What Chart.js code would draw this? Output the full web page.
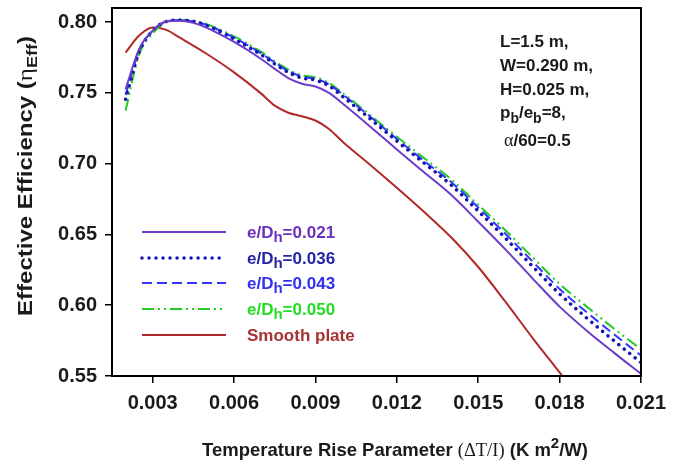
<!DOCTYPE html>
<html>
<head>
<meta charset="utf-8">
<script src="https://cdn.jsdelivr.net/npm/chart.js@4.4.1/dist/chart.umd.min.js"></script>
<style>
  body { margin: 0; background: #fff; }
  #wrap { width: 682px; height: 464px; }
</style>
</head>
<body>
<div id="wrap"><canvas id="myChart" width="682" height="464"></canvas></div>
<script>
// temperature rise parameter, K m2/W
const xRib = [0.002, 0.0025, 0.003, 0.0035, 0.004, 0.0045, 0.005, 0.006, 0.007, 0.0075, 0.008, 0.0085, 0.009,
  0.0095, 0.010, 0.011, 0.012, 0.013, 0.014, 0.015, 0.016, 0.017, 0.018, 0.019, 0.020, 0.021];

// effective efficiency for each relative roughness height
const eff021 = [0.7525, 0.781, 0.794, 0.8005, 0.801, 0.7995, 0.796, 0.786, 0.774, 0.767, 0.7605, 0.7565, 0.7545,
  0.750, 0.7425, 0.7265, 0.710, 0.694, 0.678, 0.659, 0.6395, 0.619, 0.599, 0.582, 0.5665, 0.5515];
const eff036 = [0.7455, 0.779, 0.794, 0.8005, 0.8015, 0.8005, 0.7975, 0.788, 0.777, 0.7705, 0.7645, 0.7605, 0.759,
  0.755, 0.7475, 0.732, 0.716, 0.7005, 0.685, 0.6665, 0.6475, 0.6275, 0.608, 0.591, 0.575, 0.5595];
const eff043 = [0.7485, 0.780, 0.794, 0.8005, 0.8015, 0.8005, 0.798, 0.789, 0.778, 0.7715, 0.7655, 0.7615, 0.760,
  0.756, 0.749, 0.7335, 0.7175, 0.702, 0.687, 0.669, 0.6505, 0.631, 0.6115, 0.595, 0.5795, 0.5645];
const eff050 = [0.7375, 0.777, 0.792, 0.800, 0.8015, 0.801, 0.7985, 0.790, 0.779, 0.7725, 0.7665, 0.7625, 0.761,
  0.757, 0.750, 0.7345, 0.719, 0.704, 0.689, 0.671, 0.653, 0.634, 0.615, 0.599, 0.5835, 0.569];

// smooth absorber plate
const xSmooth = [0.002, 0.0025, 0.003, 0.0035, 0.004, 0.005, 0.006, 0.007, 0.0075, 0.008, 0.0085, 0.009, 0.0095,
  0.010, 0.011, 0.012, 0.013, 0.014, 0.015, 0.016, 0.017, 0.018, 0.0182];
const effSmooth = [0.7785, 0.7905, 0.7962, 0.7945, 0.789, 0.7775, 0.7645, 0.7495, 0.741, 0.736, 0.7335, 0.7305, 0.7245,
  0.7155, 0.6995, 0.683, 0.666, 0.648, 0.627, 0.6025, 0.577, 0.5525, 0.5475];

const roughness = ['0.021', '0.036', '0.043', '0.050'];
const xTicks = [0.003, 0.006, 0.009, 0.012, 0.015, 0.018, 0.021];
const yTicks = [0.55, 0.60, 0.65, 0.70, 0.75, 0.80];

const BOLD = '"Liberation Sans", Arial, sans-serif';
const SERIF = '"Liberation Serif", "Times New Roman", serif';

function pts(xs, ys) {
  return xs.map((x, i) => ({ x: x, y: ys[i] }));
}

// draw a row of text pieces (for sub/superscripts), returns end x
function drawRuns(ctx, x, y, runs) {
  runs.forEach(r => {
    ctx.font = r.font;
    if (r.color) ctx.fillStyle = r.color;
    ctx.fillText(r.t, x, y + (r.dy || 0));
    x += ctx.measureText(r.t).width;
  });
  return x;
}
function runsWidth(ctx, runs) {
  let w = 0;
  runs.forEach(r => { ctx.font = r.font; w += ctx.measureText(r.t).width; });
  return w;
}

// legend drawn inside the plot, with line samples from the dataset styles
const legendPlugin = {
  id: 'innerLegend',
  afterDraw(chart) {
    const ctx = chart.ctx;
    const rowsY = [232, 258, 283, 309, 335];
    chart.data.datasets.forEach((ds, i) => {
      const y = rowsY[i];
      ctx.save();
      ctx.strokeStyle = ds.borderColor;
      ctx.lineWidth = ds.borderWidth;
      ctx.lineCap = ds.borderCapStyle || 'butt';
      ctx.setLineDash(ds.borderDash || []);
      ctx.beginPath();
      ctx.moveTo(142, y);
      ctx.lineTo(226, y);
      ctx.stroke();
      ctx.restore();

      ctx.save();
      ctx.fillStyle = ds.textColor;
      ctx.textBaseline = 'alphabetic';
      if (i < roughness.length) {
        drawRuns(ctx, 247, y + 6, [
          { t: 'e/D', font: 'bold 17px ' + BOLD },
          { t: 'h', font: 'bold 15px ' + BOLD, dy: 4 },
          { t: '=' + roughness[i], font: 'bold 17px ' + BOLD }
        ]);
      } else {
        drawRuns(ctx, 247, y + 6, [{ t: 'Smooth plate', font: 'bold 17px ' + BOLD }]);
      }
      ctx.restore();
    });
  }
};

// box, geometry notes and axis titles
const decorPlugin = {
  id: 'decor',
  afterDraw(chart) {
    const ctx = chart.ctx;
    const a = chart.chartArea;
    ctx.save();
    ctx.strokeStyle = '#000';
    ctx.lineWidth = 2;
    ctx.strokeRect(a.left, a.top, a.right - a.left, a.bottom - a.top);

    ctx.fillStyle = '#1a1a1a';
    ctx.textBaseline = 'alphabetic';
    const f = 'bold 17px ' + BOLD;
    const fs = 'bold 14px ' + BOLD;
    drawRuns(ctx, 500, 47, [{ t: 'L=1.5 m,', font: f }]);
    drawRuns(ctx, 500, 71, [{ t: 'W=0.290 m,', font: f }]);
    drawRuns(ctx, 500, 95, [{ t: 'H=0.025 m,', font: f }]);
    drawRuns(ctx, 500, 118, [
      { t: 'p', font: f }, { t: 'b', font: fs, dy: 5 },
      { t: '/e', font: f }, { t: 'b', font: fs, dy: 5 },
      { t: '=8,', font: f }
    ]);
    drawRuns(ctx, 504, 146, [
      { t: '\u03B1', font: '18px ' + SERIF },
      { t: '/60=0.5', font: f }
    ]);

    // x title
    const xRuns = [
      { t: 'Temperature Rise Parameter ', font: 'bold 18.5px ' + BOLD },
      { t: '(\u0394T/I)', font: '18.5px ' + SERIF },
      { t: ' (K m', font: 'bold 18.5px ' + BOLD },
      { t: '2', font: 'bold 15px ' + BOLD, dy: -8 },
      { t: '/W)', font: 'bold 18.5px ' + BOLD }
    ];
    const xw = runsWidth(ctx, xRuns);
    drawRuns(ctx, 395 - xw / 2, 456, xRuns);

    // y title, stretched a little along its length
    const yRuns = [
      { t: 'Effective Efficiency (', font: 'bold 20px ' + BOLD },
      { t: '\u03B7', font: '21px ' + SERIF },
      { t: 'Eff', font: 'bold 15px ' + BOLD, dy: 5 },
      { t: ')', font: 'bold 20px ' + BOLD }
    ];
    const yw = runsWidth(ctx, yRuns);
    ctx.translate(32, 176);
    ctx.rotate(-Math.PI / 2);
    ctx.scale(1.2, 1);
    drawRuns(ctx, -yw / 2, 0, yRuns);
    ctx.restore();
  }
};

const datasets = [
  { label: 'e/Dh=0.021', data: pts(xRib, eff021), borderColor: '#6b3cc9', textColor: '#6a30c0',
    borderWidth: 2 },
  { label: 'e/Dh=0.036', data: pts(xRib, eff036), borderColor: '#1414b4', textColor: '#2323a8',
    borderWidth: 3.5, borderDash: [0.01, 7], borderCapStyle: 'round' },
  { label: 'e/Dh=0.043', data: pts(xRib, eff043), borderColor: '#3535ff', textColor: '#3030f0',
    borderWidth: 2, borderDash: [10, 5] },
  { label: 'e/Dh=0.050', data: pts(xRib, eff050), borderColor: '#22cc22', textColor: '#22dd22',
    borderWidth: 2, borderDash: [12, 4, 2, 4, 2, 4] },
  { label: 'Smooth plate', data: pts(xSmooth, effSmooth), borderColor: '#b02a2a', textColor: '#a83232',
    borderWidth: 2 }
];
datasets.forEach(d => {
  d.pointRadius = 0;
  d.fill = false;
  d.cubicInterpolationMode = 'monotone';
});

new Chart(document.getElementById('myChart'), {
  type: 'line',
  data: { datasets: datasets },
  options: {
    responsive: false,
    animation: false,
    devicePixelRatio: 1,
    layout: { padding: { top: 8, right: 41, left: 0, bottom: 0 } },
    plugins: { legend: { display: false }, tooltip: { enabled: false } },
    scales: {
      x: {
        type: 'linear', min: 0.0015, max: 0.021,
        afterBuildTicks: s => { s.ticks = xTicks.map(v => ({ value: v })); },
        afterFit: s => { s.height = 88; s.paddingLeft = 0; s.paddingRight = 0; },
        ticks: { callback: v => v.toFixed(3), color: '#1a1a1a', padding: 8, maxRotation: 0,
          font: { family: BOLD, size: 20, weight: 'bold' } },
        grid: { drawOnChartArea: false, drawTicks: true, tickLength: 7, color: '#000', lineWidth: 1.5 },
        border: { display: true, color: '#000', width: 2 }
      },
      y: {
        type: 'linear', min: 0.55, max: 0.81,
        afterBuildTicks: s => { s.ticks = yTicks.map(v => ({ value: v })); },
        afterFit: s => { s.width = 112; s.paddingTop = 0; s.paddingBottom = 0; },
        ticks: { callback: v => v.toFixed(2), color: '#1a1a1a', padding: 8,
          font: { family: BOLD, size: 20, weight: 'bold' } },
        grid: { drawOnChartArea: false, drawTicks: true, tickLength: 7, color: '#000', lineWidth: 1.5 },
        border: { display: true, color: '#000', width: 2 }
      }
    }
  },
  plugins: [legendPlugin, decorPlugin]
});
</script>
</body>
</html>
